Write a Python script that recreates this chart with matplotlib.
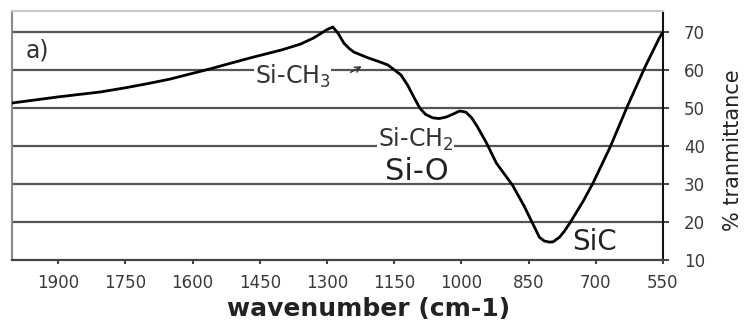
import matplotlib
matplotlib.use("Agg")
import matplotlib.pyplot as plt

plt.rcParams['font.family'] = ['DejaVu Sans']

wavenumber = [2003, 1900, 1806, 1750, 1700, 1650, 1600, 1560, 1520, 1470, 1430, 1400,
              1359, 1330, 1315, 1300, 1287, 1275, 1262, 1250, 1240, 1209, 1182, 1164,
              1144, 1135, 1120, 1105, 1093, 1080, 1064, 1050, 1034, 1020, 1004, 990,
              977, 965, 944, 922, 886, 860, 848, 835, 826, 815, 803, 795, 781, 770,
              758, 729, 706, 668, 630, 590, 557, 550]
transmittance = [51.3, 52.9, 54.2, 55.3, 56.4, 57.6, 59.1, 60.3, 61.6, 63.2, 64.4, 65.3,
                 66.8, 68.4, 69.5, 70.6, 71.3, 69.6, 67.0, 65.6, 64.7, 63.2, 62.1, 61.3,
                 59.5, 58.7, 56.0, 52.6, 50.0, 48.3, 47.4, 47.2, 47.6, 48.3, 49.2, 48.9,
                 47.4, 45.2, 40.8, 35.5, 29.7, 24.2, 21.3, 18.2, 16.0, 15.0, 14.7, 14.8,
                 16.0, 17.6, 19.7, 25.3, 30.3, 39.7, 50.3, 60.8, 68.7, 70.0]

x_ticks = [1900, 1750, 1600, 1450, 1300, 1150, 1000, 850, 700, 550]
y_ticks = [10, 20, 30, 40, 50, 60, 70]

W, H = 749, 328
fig = plt.figure(figsize=(W / 100, H / 100), dpi=100)
ax = fig.add_axes([12 / W, 68 / H, 651 / W, 249 / H])

ax.plot(wavenumber, transmittance, color='black', lw=2.0, zorder=5,
        solid_joinstyle='round')

ax.set_xlim(2003, 550)
ax.set_ylim(10, 75.5)

ax.set_xticks(x_ticks)
ax.set_xticklabels([str(v) for v in x_ticks])
ax.set_yticks(y_ticks)
ax.set_yticklabels([str(v) for v in y_ticks])
ax.yaxis.tick_right()

ax.tick_params(axis='x', direction='out', length=3, width=1.5, color='#444',
               labelsize=12, labelcolor='#3a3a3a', pad=7)
ax.tick_params(axis='y', direction='out', length=4, width=1.2, color='#222',
               labelsize=12, labelcolor='#3a3a3a', pad=11, left=False, right=True)
for lbl in ax.get_yticklabels():
    lbl.set_horizontalalignment('left')

for yv in y_ticks[1:]:
    ax.axhline(yv, color='#555555', lw=1.6, zorder=1)

ax.spines['top'].set_color('#c8c8c8')
ax.spines['top'].set_linewidth(1.5)
ax.spines['left'].set_color('#8a8a8a')
ax.spines['left'].set_linewidth(1.5)
ax.spines['bottom'].set_color('#444444')
ax.spines['bottom'].set_linewidth(1.6)
ax.spines['right'].set_color('#111111')
ax.spines['right'].set_linewidth(1.5)

fig.text(369 / W, 1 - 309 / H, 'wavenumber (cm-1)', fontsize=18, color='#222',
         fontweight='bold', ha='center', va='center')
fig.text(733 / W, 1 - 150 / H, '% tranmittance', fontsize=15, color='#222',
         ha='center', va='center', rotation=90)

box = dict(facecolor='white', edgecolor='none', pad=0.5)
ax.text(1972, 65, 'a)', fontsize=17, color='#333', ha='left', va='center', zorder=3)
ax.text(1461, 58.4, 'Si-CH$_3$', fontsize=17, color='#333', ha='left', va='center',
        zorder=3, bbox=box)
ax.annotate('', xy=(1217, 61.3), xytext=(1253, 59.0),
            arrowprops=dict(arrowstyle='->', color='#333', lw=1.0), zorder=4)
ax.text(1186, 41.6, 'Si-CH$_2$', fontsize=17, color='#333', ha='left', va='center',
        zorder=3, bbox=box)
ax.text(1170, 33.4, 'Si-O', fontsize=22, color='#222', ha='left', va='center', zorder=3)
ax.text(753, 14.7, 'SiC', fontsize=20, color='#222', ha='left', va='center', zorder=3)

fig.savefig('out.png', dpi=100, facecolor='white')
